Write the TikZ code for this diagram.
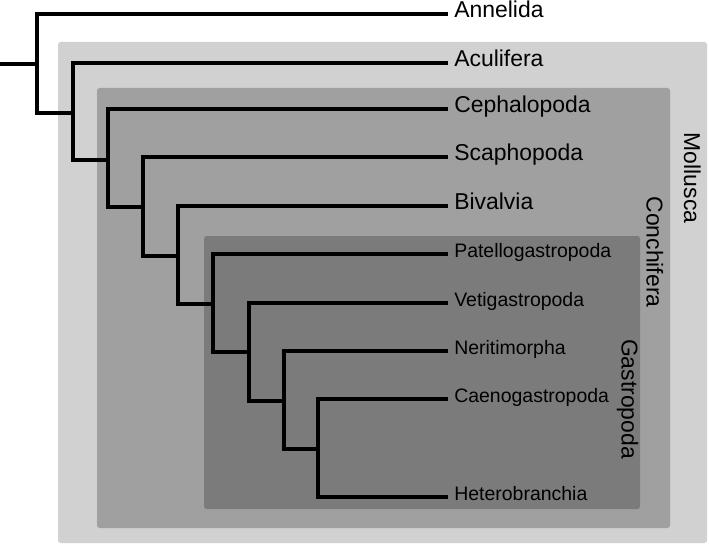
\documentclass[tikz,border=0pt]{standalone}
\usepackage{fontspec}
\setmainfont{Liberation Sans}
\usetikzlibrary{calc}

\definecolor{mollgray}{HTML}{D1D1D1}
\definecolor{conchgray}{HTML}{A0A0A0}
\definecolor{gastgray}{HTML}{7B7B7B}

\begin{document}
\begin{tikzpicture}[x=0.75pt, y=-0.75pt,
    branch/.style={line width=2.6pt, black},
    taxon/.style={anchor=base west, inner sep=0pt, font=\fontsize{17.2}{20}\selectfont},
    subtaxon/.style={anchor=base west, inner sep=0pt, font=\fontsize{14.6}{17}\selectfont},
    cladename/.style={rotate=-90, anchor=base, inner sep=0pt, font=\fontsize{17.2}{20}\selectfont}]
    \useasboundingbox (0,0) rectangle (709,545);

    % clade boxes
    \fill[mollgray, rounded corners=2pt] (58,42) rectangle (707,543);
    \fill[conchgray, rounded corners=2pt] (97,88) rectangle (670,528);
    \fill[gastgray, rounded corners=2pt] (204,236) rectangle (640,509);

    \node[cladename] (lMoll) at (684,178) {Mollusca};
    \node[cladename] (lConch) at (646.5,252) {Conchifera};
    \node[cladename] (lGast) at (621.5,399) {Gastropoda};

    % tips
    \coordinate (tAnn) at (448,14);
    \coordinate (tAcu) at (448,63);
    \coordinate (tCep) at (448,109);
    \coordinate (tSca) at (448,157);
    \coordinate (tBiv) at (448,206);
    \coordinate (tPat) at (448,254);
    \coordinate (tVet) at (448,303);
    \coordinate (tNer) at (448,351);
    \coordinate (tCae) at (448,399);
    \coordinate (tHet) at (448,497);

    % inner nodes
    \coordinate (stem) at (0,64);
    \coordinate (nRoot) at (37,64);
    \coordinate (nMoll) at (73,113);
    \coordinate (nConch) at (108,160);
    \coordinate (nSca) at (143,207);
    \coordinate (nBiv) at (178,256);
    \coordinate (nGast) at (213,304);
    \coordinate (nVet) at (249,352);
    \coordinate (nNer) at (284,401);
    \coordinate (nCae) at (318,449);

    \draw[branch] (stem) -- (nRoot);
    \draw[branch] (nRoot) |- (tAnn);
    \draw[branch] (nRoot) |- (nMoll);
    \draw[branch] (nMoll) |- (tAcu);
    \draw[branch] (nMoll) |- (nConch);
    \draw[branch] (nConch) |- (tCep);
    \draw[branch] (nConch) |- (nSca);
    \draw[branch] (nSca) |- (tSca);
    \draw[branch] (nSca) |- (nBiv);
    \draw[branch] (nBiv) |- (tBiv);
    \draw[branch] (nBiv) |- (nGast);
    \draw[branch] (nGast) |- (tPat);
    \draw[branch] (nGast) |- (nVet);
    \draw[branch] (nVet) |- (tVet);
    \draw[branch] (nVet) |- (nNer);
    \draw[branch] (nNer) |- (tNer);
    \draw[branch] (nNer) |- (nCae);
    \draw[branch] (nCae) |- (tCae);
    \draw[branch] (nCae) |- (tHet);

    % labels
    \node[taxon] (ann) at ($(tAnn)+(6,3.5)$) {Annelida};
    \node[taxon] (acu) at ($(tAcu)+(6,3.5)$) {Aculifera};
    \node[taxon] (cep) at ($(tCep)+(6,3.5)$) {Cephalopoda};
    \node[taxon] (sca) at ($(tSca)+(6,3.5)$) {Scaphopoda};
    \node[taxon] (biv) at ($(tBiv)+(6,3.5)$) {Bivalvia};
    \node[subtaxon] (pat) at ($(tPat)+(6,3.5)$) {Patellogastropoda};
    \node[subtaxon] (vet) at ($(tVet)+(6,3.5)$) {Vetigastropoda};
    \node[subtaxon] (ner) at ($(tNer)+(6,3.5)$) {Neritimorpha};
    \node[subtaxon] (cae) at ($(tCae)+(6,3.5)$) {Caenogastropoda};
    \node[subtaxon] (het) at ($(tHet)+(6,3.5)$) {Heterobranchia};
\end{tikzpicture}
\end{document}
